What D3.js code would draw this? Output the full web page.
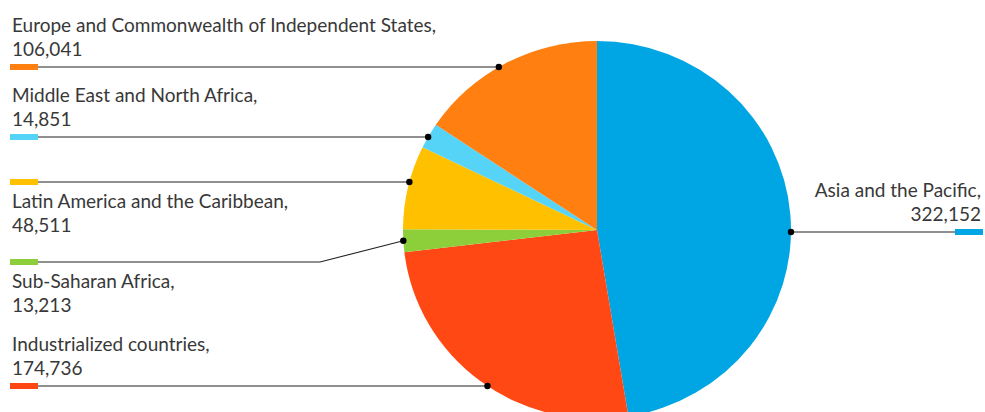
<!DOCTYPE html>
<html>
<head>
<meta charset="utf-8">
<script src="https://cdn.jsdelivr.net/npm/d3@7"></script>
<style>
  html, body { margin: 0; padding: 0; background: #fff; }
  svg { display: block; }
  text { font-family: Lato, "Open Sans", sans-serif; fill: #383838; }
</style>
</head>
<body>
<svg id="chart" width="985" height="412"></svg>
<script>
// Regions, in the clockwise order of the pie (starting at 12 o'clock)
const regions = [
  "Asia and the Pacific",
  "Industrialized countries",
  "Sub-Saharan Africa",
  "Latin America and the Caribbean",
  "Middle East and North Africa",
  "Europe and Commonwealth of Independent States"
];
const values = [322152, 174736, 13213, 48511, 14851, 106041];
const colors = ["#00a5e3", "#ff4814", "#8dcf3a", "#ffc000", "#55d4f7", "#ff7f11"];

// Label placement: y of the leader line, which side of the pie, and
// whether the two text lines sit above or below the swatch
const labelLayout = [
  { lineY: 232, side: "right", text: "above" },
  { lineY: 386, side: "left",  text: "above" },
  { lineY: 262, side: "left",  text: "below" },
  { lineY: 182, side: "left",  text: "below" },
  { lineY: 137, side: "left",  text: "above" },
  { lineY: 67,  side: "left",  text: "above" }
];

const svg = d3.select("#chart");
const cx = 597, cy = 230, rx = 194, ry = 189;
const fmt = d3.format(",");

const data = regions.map((name, i) => ({ name, value: values[i], color: colors[i], layout: labelLayout[i] }));

const pie = d3.pie().value(d => d.value).sort(null);
const arcs = pie(data);
const arc = d3.arc().innerRadius(0).outerRadius(rx);

// Pie, slightly flattened vertically
svg.append("g")
  .attr("transform", `translate(${cx},${cy}) scale(1,${ry / rx})`)
  .selectAll("path")
  .data(arcs)
  .join("path")
  .attr("d", arc)
  .attr("fill", d => d.data.color);

// Point on the pie edge at angle a (radians, clockwise from top)
const edgePoint = a => [cx + rx * Math.sin(a), cy - ry * Math.cos(a)];

const swW = 28, swH = 6;
const textX = 12, rightX = 983;
const lineGap = 24;

arcs.forEach(d => {
  const L = d.data.layout;
  const y = L.lineY;
  // find where the leader line meets this slice's edge
  let c = (cy - y) / ry;
  c = Math.max(-1, Math.min(1, c));
  let a = Math.acos(c);
  if (L.side === "left") a = 2 * Math.PI - a;
  let anchor, bend = null;
  if (a >= d.startAngle && a <= d.endAngle) {
    anchor = edgePoint(a);
  } else {
    anchor = edgePoint((d.startAngle + d.endAngle) / 2);
    bend = [320, y];
  }

  const g = svg.append("g");
  if (L.side === "left") {
    const pts = [[textX - 2 + swW, y]];
    if (bend) pts.push(bend);
    pts.push(anchor);
    g.append("path")
      .attr("d", d3.line()(pts))
      .attr("fill", "none")
      .attr("stroke", "#222")
      .attr("stroke-width", 1.1);
    g.append("rect")
      .attr("x", textX - 2).attr("y", y - swH / 2)
      .attr("width", swW).attr("height", swH)
      .attr("fill", d.data.color);
  } else {
    g.append("path")
      .attr("d", d3.line()([anchor, [rightX - swW, y]]))
      .attr("fill", "none")
      .attr("stroke", "#222")
      .attr("stroke-width", 1.1);
    g.append("rect")
      .attr("x", rightX - swW).attr("y", y - swH / 2)
      .attr("width", swW).attr("height", swH)
      .attr("fill", d.data.color);
  }
  g.append("circle")
    .attr("cx", anchor[0]).attr("cy", anchor[1])
    .attr("r", 3.2).attr("fill", "#000");

  const base1 = L.text === "above" ? y - 35 : y + 26;
  const t = g.append("text")
    .attr("font-size", 19)
    .attr("text-anchor", L.side === "left" ? "start" : "end");
  const tx = L.side === "left" ? textX : rightX - 2;
  t.append("tspan").attr("x", tx).attr("y", base1).text(d.data.name + ",");
  t.append("tspan").attr("x", tx).attr("y", base1 + lineGap).text(fmt(d.data.value));
});
</script>
</body>
</html>
